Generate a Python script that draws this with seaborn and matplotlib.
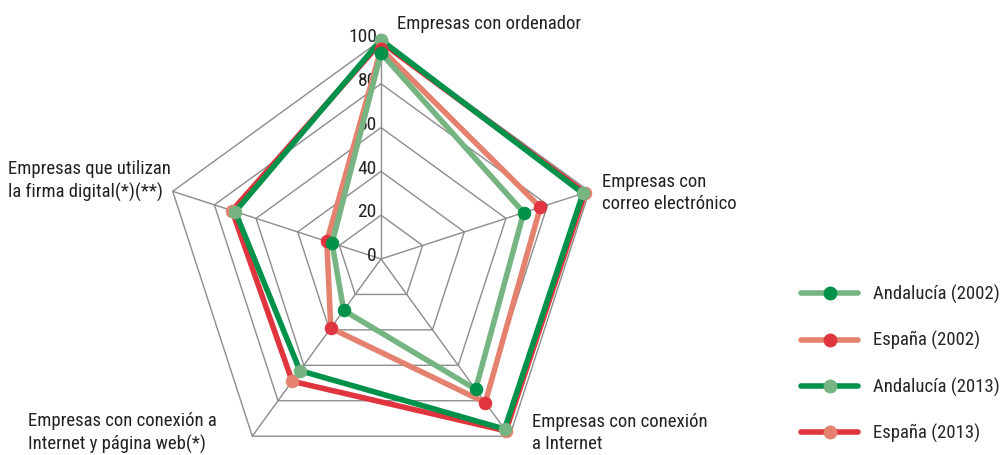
import numpy as np
import pandas as pd
import matplotlib
matplotlib.use("Agg")
import matplotlib.pyplot as plt
from matplotlib import font_manager
from matplotlib.lines import Line2D
import seaborn as sns

# --- data ---
categories = [
    "Empresas con ordenador",
    "Empresas con\ncorreo electrónico",
    "Empresas con conexión\na Internet",
    "Empresas con conexión a\nInternet y página web(*)",
    "Empresas que utilizan\nla firma digital(*)(**)",
]
series_names = ["Andalucía (2002)", "España (2002)", "Andalucía (2013)", "España (2013)"]
andalucia_2002 = [94, 68.5, 73.5, 29, 23.5]
espana_2002 = [96, 76.5, 81, 39, 26]
andalucia_2013 = [100, 97, 96, 63, 70]
espana_2013 = [99, 98, 97, 69, 71.5]
r_ticks = [0, 20, 40, 60, 80, 100]

line_colors = ["#76b482", "#e4826f", "#00914a", "#e0343f"]
marker_colors = ["#00914a", "#e0343f", "#76b482", "#e4826f"]
values = [andalucia_2002, espana_2002, andalucia_2013, espana_2013]

sns.set_theme(style="white")
installed = {f.name for f in font_manager.fontManager.ttflist}
fam = [f for f in ["Roboto Condensed", "Liberation Sans Narrow", "Liberation Sans"] if f in installed]
plt.rcParams["font.family"] = fam[:1] + ["DejaVu Sans"]
fs = 13.5 if fam[0] != "Liberation Sans" else 12

fig = plt.figure(figsize=(10, 4.55), dpi=100)
ax = fig.add_axes([162 / 1000, -23 / 455, 438 / 1000, 438 / 455], projection="polar")

n = len(categories)
theta = np.pi / 2 - np.arange(n) * 2 * np.pi / n
theta_closed = np.append(theta, theta[0] + 2 * np.pi)

# pentagon grid
for r in r_ticks[1:]:
    ax.plot(theta_closed, [r] * (n + 1), color="#8c8c8c", lw=1.0, zorder=1, clip_on=False)
for t in theta:
    ax.plot([t, t], [0, 100], color="#8c8c8c", lw=1.0, zorder=1, clip_on=False)

# series (2013 drawn first, 2002 on top)
for i in [3, 2, 1, 0]:
    df = pd.DataFrame({"theta": theta_closed, "value": values[i] + [values[i][0]]})
    sns.lineplot(data=df, x="theta", y="value", sort=False, estimator=None, ax=ax,
                 color=line_colors[i], lw=4, marker="o", markersize=9,
                 markerfacecolor=marker_colors[i], markeredgecolor=marker_colors[i],
                 zorder=3 + (3 - i), clip_on=False, legend=False)

ax.set_ylim(0, 100)
ax.grid(False)
ax.spines["polar"].set_visible(False)
ax.set_xticks([])
ax.set_yticks([])
ax.set_xlabel("")
ax.set_ylabel("")
ax.patch.set_alpha(0)

# radial tick labels
for r in r_ticks:
    ax.annotate(str(r), xy=(np.pi / 2, r), xytext=(-3, 2), textcoords="offset points",
                ha="right", va="center", fontsize=fs + 0.5, color="#222222")

# category labels
label_pos = [(397, 24), (602, 193), (532, 433), (28, 433), (8, 181)]
for lab, (px, py) in zip(categories, label_pos):
    fig.text(px / 1000, 1 - py / 455, lab, ha="left", va="center", fontsize=fs,
             color="#222222", linespacing=1.3)

handles = [Line2D([0], [0], color=line_colors[i], lw=4, marker="o", markersize=9,
                  markerfacecolor=marker_colors[i], markeredgecolor=marker_colors[i])
           for i in range(4)]
fig.legend(handles, series_names, loc="center left", bbox_to_anchor=(0.801, 1 - 364 / 455),
           frameon=False, fontsize=fs, handlelength=3.05, handletextpad=0.8,
           labelspacing=1.45, borderpad=0, borderaxespad=0, numpoints=1)

fig.savefig("out.png", dpi=100)
